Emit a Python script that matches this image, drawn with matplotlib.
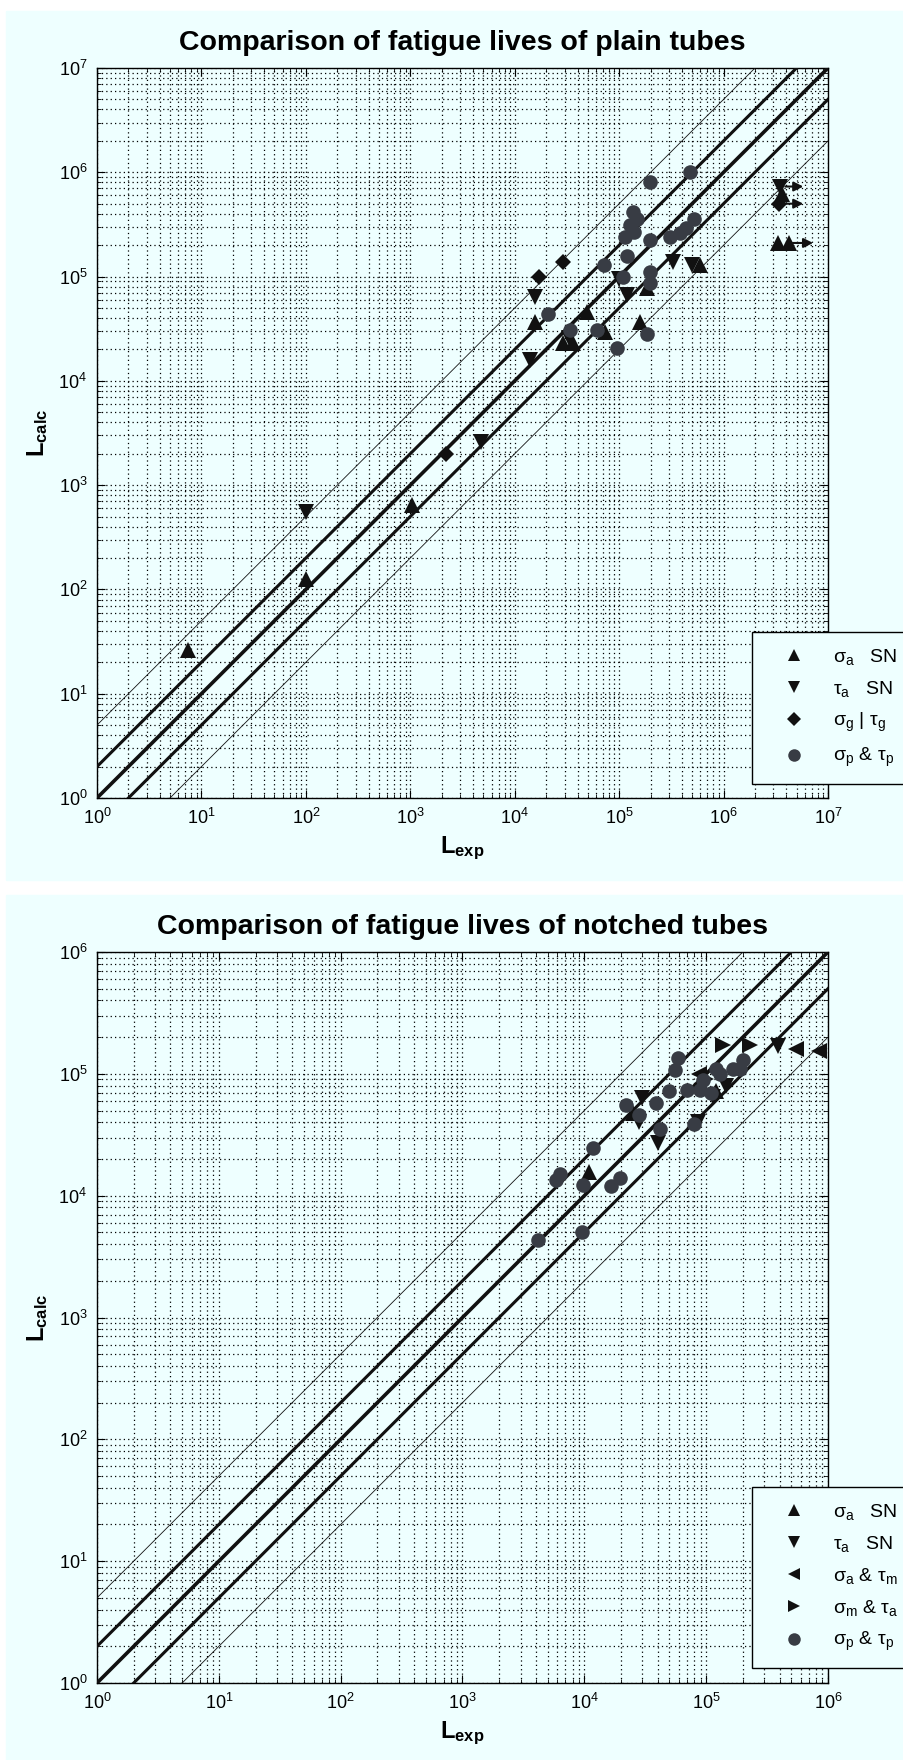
import numpy as np
import matplotlib
matplotlib.use("Agg")
import matplotlib.pyplot as plt
from matplotlib.patches import Rectangle
from matplotlib.lines import Line2D

plt.rcParams['font.family'] = ['Liberation Sans', 'DejaVu Sans']
plt.rcParams['mathtext.fontset'] = 'custom'
plt.rcParams['mathtext.rm'] = 'Liberation Sans'
plt.rcParams['mathtext.it'] = 'Liberation Sans'
plt.rcParams['mathtext.bf'] = 'Liberation Sans:bold'
plt.rcParams['mathtext.default'] = 'regular'

BG = '#EEFFFF'
DARK = '#111111'
GREY = '#383c44'

# ---- plain tubes ----
plain_sa_x = [7.5, 100, 1050, 1.57e4, 2.9e4, 3.6e4, 4.9e4, 7.3e4, 1.59e5, 1.85e5, 6.0e5]
plain_sa_y = [26, 125, 640, 3.7e4, 2.3e4, 2.3e4, 4.6e4, 2.95e4, 3.7e4, 7.8e4, 1.30e5]
plain_ta_x = [100, 4.8e3, 1.4e4, 1.57e4, 3.3e4, 1.0e5, 1.18e5, 3.3e5, 5.0e5]
plain_ta_y = [550, 2.6e3, 1.58e4, 6.4e4, 2.6e4, 9.5e4, 6.6e4, 1.38e5, 1.3e5]
plain_g_x = [2.2e3, 1.7e4, 2.9e4]
plain_g_y = [2.0e3, 1.0e5, 1.38e5]
plain_p_x = [2.1e4, 3.4e4, 6.1e4, 7.1e4, 9.5e4, 1.1e5, 1.14e5, 1.18e5, 1.27e5, 1.37e5,
             1.4e5, 1.48e5, 1.84e5, 1.98e5, 1.98e5, 1.98e5, 1.98e5, 3.1e5, 3.8e5, 4.4e5,
             4.8e5, 5.2e5]
plain_p_y = [4.4e4, 3.07e4, 3.07e4, 1.29e5, 2.05e4, 1.0e5, 2.4e5, 1.57e5, 3.1e5, 4.2e5,
             2.7e5, 3.6e5, 2.8e4, 8.1e5, 2.24e5, 1.1e5, 8.6e4, 2.4e5, 2.6e5, 2.9e5,
             1.0e6, 3.6e5]
# run-outs (arrows to the right)
run_ta_x, run_ta_y = [3.5e6], [7.3e5]
run_sa_x, run_sa_y = [3.6e6, 3.3e6, 4.2e6], [6.2e5, 2.1e5, 2.1e5]
run_g_x, run_g_y = [3.4e6], [5.0e5]
arrow_y = [7.3e5, 5.0e5, 2.1e5]
arrow_x0 = [3.9e6, 3.7e6, 4.6e6]
arrow_x1 = [5.8e6, 5.8e6, 7.2e6]

# ---- notched tubes ----
notch_sa_x = [1.1e4, 2.5e4, 1.2e5]
notch_sa_y = [1.55e4, 4.8e4, 7.2e4]
notch_ta_x = [2.8e4, 3.0e4, 4.0e4, 8.5e4, 1.14e5, 1.46e5, 3.9e5]
notch_ta_y = [4.05e4, 6.3e4, 2.7e4, 4.0e4, 6.5e4, 7.9e4, 1.7e5]
notch_am_x = [8.8e4, 5.5e5, 8.5e5]
notch_am_y = [1.0e5, 1.6e5, 1.55e5]
notch_ma_x = [1.0e5, 1.37e5, 2.3e5]
notch_ma_y = [9.0e4, 1.73e5, 1.73e5]
notch_p_x = [4.2e3, 5.9e3, 6.3e3, 9.5e3, 9.8e3, 1.18e4, 1.66e4, 1.95e4, 2.2e4, 2.8e4,
             3.9e4, 4.2e4, 5.0e4, 5.5e4, 5.9e4, 6.9e4, 8.0e4, 8.9e4, 9.4e4, 1.1e5,
             1.2e5, 1.3e5, 1.66e5, 1.9e5, 2.0e5]
notch_p_y = [4.3e3, 1.35e4, 1.5e4, 5.0e3, 1.23e4, 2.45e4, 1.19e4, 1.4e4, 5.6e4, 4.6e4,
             5.8e4, 3.5e4, 7.2e4, 1.07e5, 1.35e5, 7.4e4, 3.9e4, 7.4e4, 8.9e4, 7.0e4,
             1.1e5, 1.0e5, 1.1e5, 1.1e5, 1.3e5]

factors = [1, 2, 0.5, 5, 0.2]
widths = [2.6, 2.2, 2.2, 0.6, 0.6]

fig = plt.figure(figsize=(9.04, 17.6), dpi=100, facecolor='white')
H = 1760.0
fig.patches.append(Rectangle((6 / 904, (H - 880) / H), 1, 869 / H,
                             transform=fig.transFigure, color=BG, zorder=-10))
fig.patches.append(Rectangle((6 / 904, 0), 1, (H - 895) / H,
                             transform=fig.transFigure, color=BG, zorder=-10))


def setup(ax, top, title):
    ax.set_xscale('log')
    ax.set_yscale('log')
    ax.set_xlim(1, 10 ** top)
    ax.set_ylim(1, 10 ** top)
    ax.set_facecolor('none')
    xs = np.array([1, 10 ** top])
    for f, w in zip(factors, widths):
        ax.plot(xs, xs * f, color=DARK, lw=w, zorder=3)
    ax.grid(True, which='both', color='black', linestyle=(0, (1, 2.5)), lw=0.9)
    ax.tick_params(which='both', direction='in', top=True, right=True, labelsize=13,
                   colors='black')
    ax.tick_params(which='major', length=6, pad=7)
    ax.tick_params(which='minor', length=3)
    ax.xaxis.set_major_locator(matplotlib.ticker.LogLocator(numticks=20))
    ax.yaxis.set_major_locator(matplotlib.ticker.LogLocator(numticks=20))
    ax.xaxis.set_minor_locator(matplotlib.ticker.LogLocator(subs=np.arange(2, 10), numticks=100))
    ax.yaxis.set_minor_locator(matplotlib.ticker.LogLocator(subs=np.arange(2, 10), numticks=100))
    ax.xaxis.set_minor_formatter(matplotlib.ticker.NullFormatter())
    ax.yaxis.set_minor_formatter(matplotlib.ticker.NullFormatter())
    for s in ax.spines.values():
        s.set_linewidth(1.0)
    ax.set_title(title, fontsize=20.5, fontweight='bold', pad=13)
    ax.set_xlabel(r'$\mathbf{L_{exp}}$', fontsize=17, labelpad=5)
    ax.set_ylabel(r'$\mathbf{L_{calc}}$', fontsize=17, labelpad=6)


def pts(ax, x, y, m, c, ms):
    ax.plot(x, y, linestyle='none', marker=m, color=c, markersize=ms, zorder=4,
            markeredgewidth=0)


# top panel
ax1 = fig.add_axes([97 / 904, (H - 798) / H, 731 / 904, 730 / H])
setup(ax1, 7, 'Comparison of fatigue lives of plain tubes')
pts(ax1, plain_sa_x, plain_sa_y, '^', DARK, 11)
pts(ax1, plain_ta_x, plain_ta_y, 'v', DARK, 11)
pts(ax1, plain_g_x, plain_g_y, 'D', DARK, 8)
pts(ax1, plain_p_x, plain_p_y, 'o', GREY, 10.5)
pts(ax1, run_ta_x, run_ta_y, 'v', DARK, 11)
pts(ax1, run_sa_x, run_sa_y, '^', DARK, 11)
pts(ax1, run_g_x, run_g_y, 'D', DARK, 8)
for y, x0, x1 in zip(arrow_y, arrow_x0, arrow_x1):
    ax1.annotate('', xy=(x1, y), xytext=(x0, y),
                 arrowprops=dict(arrowstyle='-|>', color=DARK, lw=1.5,
                                 mutation_scale=14, shrinkA=0, shrinkB=0), zorder=4)

# bottom panel
ax2 = fig.add_axes([97 / 904, (H - 1683) / H, 731 / 904, 731 / H])
setup(ax2, 6, 'Comparison of fatigue lives of notched tubes')
pts(ax2, notch_sa_x, notch_sa_y, '^', DARK, 11)
pts(ax2, notch_ta_x, notch_ta_y, 'v', DARK, 11)
pts(ax2, notch_am_x, notch_am_y, '<', DARK, 11)
pts(ax2, notch_ma_x, notch_ma_y, '>', DARK, 11)
pts(ax2, notch_p_x, notch_p_y, 'o', GREY, 10.5)


def legend(entries, bottom_px):
    handles = [Line2D([], [], linestyle='none', marker=m, color=c, markersize=s,
                      markeredgewidth=0) for m, c, s, _ in entries]
    labels = [l for *_, l in entries]
    lg = fig.legend(handles, labels, loc='lower left',
                    bbox_to_anchor=(752 / 904, 1 - bottom_px / H),
                    bbox_transform=fig.transFigure, borderaxespad=0, fontsize=14,
                    borderpad=0.75, handlelength=2.8, handletextpad=0.6,
                    labelspacing=0.62, fancybox=False, framealpha=1,
                    facecolor=BG, edgecolor='black')
    lg.get_frame().set_linewidth(1.0)


legend([('^', DARK, 9, r'$\sigma_a$   SN'),
        ('v', DARK, 9, r'$\tau_a$   SN'),
        ('D', DARK, 7, r'$\sigma_g$ | $\tau_g$'),
        ('o', GREY, 9, r'$\sigma_p$ & $\tau_p$')], 784)
legend([('^', DARK, 9, r'$\sigma_a$   SN'),
        ('v', DARK, 9, r'$\tau_a$   SN'),
        ('<', DARK, 9, r'$\sigma_a$ & $\tau_m$'),
        ('>', DARK, 9, r'$\sigma_m$ & $\tau_a$'),
        ('o', GREY, 9, r'$\sigma_p$ & $\tau_p$')], 1668)

fig.savefig('out.png', dpi=100, facecolor='white')
